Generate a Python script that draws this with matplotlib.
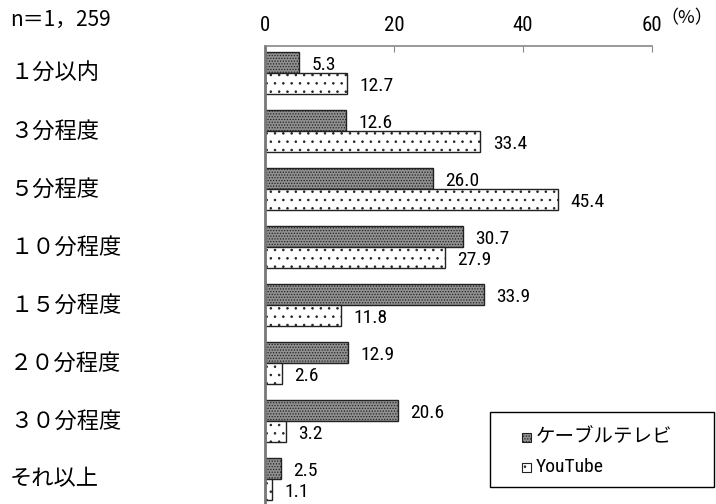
import matplotlib
matplotlib.use("Agg")
import matplotlib.pyplot as plt
import matplotlib.transforms as mtransforms
from matplotlib import font_manager
from matplotlib.patches import Rectangle

categories = ["１分以内", "３分程度", "５分程度", "１０分程度",
              "１５分程度", "２０分程度", "３０分程度", "それ以上"]
cable = [5.3, 12.6, 26.0, 30.7, 33.9, 12.9, 20.6, 2.5]
youtube = [12.7, 33.4, 45.4, 27.9, 11.8, 2.6, 3.2, 1.1]
series_names = ["ケーブルテレビ", "YouTube"]
xticks = [0, 20, 40, 60]

jp = ["Noto Sans CJK JP", "DejaVu Sans"]
# narrow font for the numbers, whichever is installed
installed = {f.name for f in font_manager.fontManager.ttflist}
num = [f for f in ["Liberation Sans Narrow", "Roboto Condensed",
                   "Liberation Sans", "DejaVu Sans"] if f in installed][:1]
plt.rcParams["hatch.linewidth"] = 0.6

W, H = 716, 504
fig = plt.figure(figsize=(W / 100, H / 100), dpi=100)
ax = fig.add_axes([265 / W, 0.0, 387 / W, 1 - 46 / H])

styles = [dict(facecolor="#909090", edgecolor="#222222", hatch="......"),
          dict(facecolor="white", edgecolor="#222222", hatch="..")]

pos = list(range(len(categories)))
h = 0.35
cab_y = [p - 0.18 for p in pos]
yt_y = [p + 0.18 for p in pos]
ax.barh(cab_y, cable, height=h, linewidth=1.0, **styles[0])
ax.barh(yt_y, youtube, height=h, linewidth=1.0, **styles[1])

for ys, vals in [(cab_y, cable), (yt_y, youtube)]:
    for y, v in zip(ys, vals):
        ax.annotate("%.1f" % v, (v, y), xytext=(9, -2),
                    textcoords="offset points", va="center", ha="left",
                    fontsize=14, family=num)

ax.set_xlim(0, 60)
ax.set_ylim(7.43, -0.466)
ax.xaxis.tick_top()
ax.set_xticks(xticks)
ax.set_xticklabels([str(t) for t in xticks], family=num, fontsize=15)
ax.tick_params(axis="x", direction="in", length=4, color="#888888", pad=8)
ax.set_yticks([])
for s in ["right", "bottom"]:
    ax.spines[s].set_visible(False)
ax.spines["top"].set_color("#888888")
ax.spines["left"].set_color("#777777")
ax.spines["left"].set_linewidth(2)
ax.spines["top"].set_linewidth(1.2)

trans = mtransforms.blended_transform_factory(fig.transFigure, ax.transData)
for p, c in zip(pos, categories):
    ax.text(10 / W, p, c, transform=trans, ha="left", va="center",
            fontsize=16, family=jp, clip_on=False)

fig.text(10 / W, 1 - 20 / H, "n＝1，259", ha="left", va="center",
         fontsize=15, family=jp)
fig.text(660 / W, 1 - 18 / H, "（%）", ha="left", va="center",
         fontsize=13, family=jp)

# legend box drawn by hand to match the original's spacing
fig.patches.append(Rectangle((490 / W, 1 - 487 / H), 224 / W, 75 / H,
                             transform=fig.transFigure, facecolor="white",
                             edgecolor="black", linewidth=1.0))
for i, (name, st) in enumerate(zip(series_names, styles)):
    yc = 437 + 30 * i
    fig.patches.append(Rectangle((522 / W, 1 - (yc + 5) / H), 9 / W, 9 / H,
                                 transform=fig.transFigure, linewidth=0.8,
                                 **st))
    fig.text(536 / W, 1 - yc / H, name, ha="left", va="center",
             fontsize=14, family=jp if i == 0 else num)

fig.savefig("out.png", dpi=100)
